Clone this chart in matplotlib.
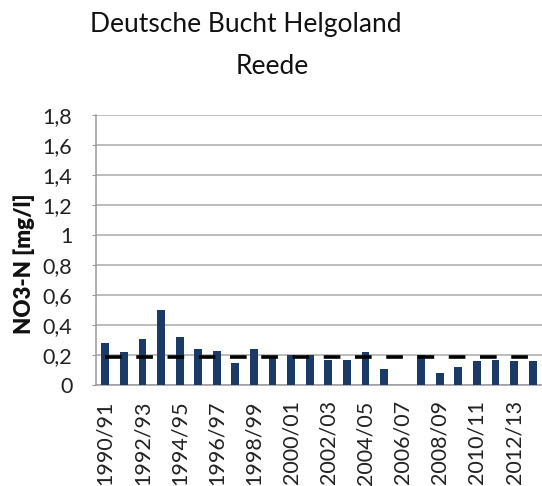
import numpy as np
import matplotlib
matplotlib.use("Agg")
import matplotlib.pyplot as plt

plt.rcParams['font.family'] = ['Lato', 'DejaVu Sans']
plt.rcParams['lines.scale_dashes'] = False

seasons = ["1990/91", "1991/92", "1992/93", "1993/94", "1994/95", "1995/96",
           "1996/97", "1997/98", "1998/99", "1999/00", "2000/01", "2001/02",
           "2002/03", "2003/04", "2004/05", "2005/06", "2006/07", "2007/08",
           "2008/09", "2009/10", "2010/11", "2011/12", "2012/13", "2013/14"]
no3n = [0.28, 0.22, 0.31, 0.50, 0.32, 0.24, 0.23, 0.15, 0.24, 0.19, 0.20, 0.20,
        0.17, 0.17, 0.22, 0.105, np.nan, 0.20, 0.08, 0.12, 0.16, 0.17, 0.16, 0.16]
target = [0.19] * len(seasons)
yticks = [0, 0.2, 0.4, 0.6, 0.8, 1.0, 1.2, 1.4, 1.6, 1.8]
ytick_labels = ["0", "0,2", "0,4", "0,6", "0,8", "1", "1,2", "1,4", "1,6", "1,8"]

W, H = 542, 486
fig = plt.figure(figsize=(W / 100, H / 100), dpi=100)
ax = fig.add_axes([96 / W, 1 - 385 / H, (542 - 96) / W, (385 - 115) / H])

x = np.arange(len(seasons))
ax.bar(x, no3n, width=0.42, color="#1b3a66", zorder=3)
ax.plot(x, target, color="black", linewidth=2.6, dashes=(12.0, 10.5), zorder=4,
        solid_capstyle='butt', dash_capstyle='butt')

ax.set_xlim(-0.5, len(seasons) - 0.5)
ax.set_ylim(0, 1.8)
ax.set_yticks(yticks)
ax.set_yticklabels(ytick_labels)
ax.set_xticks(x)
ax.set_xticklabels([s if i % 2 == 0 else "" for i, s in enumerate(seasons)],
                   rotation=90, va='top', ha='center')

ax.grid(axis='y', color="#ababab", linewidth=1.1, zorder=0)
for s in ['top', 'right']:
    ax.spines[s].set_visible(False)
for s in ['left', 'bottom']:
    ax.spines[s].set_color("#9a9a9a")
    ax.spines[s].set_linewidth(1.1)

ax.tick_params(axis='y', length=3, color="#9a9a9a", pad=14, labelsize=15.5, labelcolor="#222222")
ax.tick_params(axis='x', length=0, pad=11, labelsize=15.5, labelcolor="#222222")

ax.set_ylabel("NO3-N [mg/l]", fontsize=16, fontweight='heavy', color="#111111")
ax.yaxis.label.set_va('center')
ax.yaxis.set_label_coords(-(96 - 24) / (542 - 96), (385 - 264) / (385 - 115))

fig.text(246 / W, 1 - 32 / H, "Deutsche Bucht Helgoland", ha='center', va='baseline',
         fontsize=19, color="#111111")
fig.text(272 / W, 1 - 74 / H, "Reede", ha='center', va='baseline',
         fontsize=19, color="#111111")

fig.savefig("out.png", dpi=100)
